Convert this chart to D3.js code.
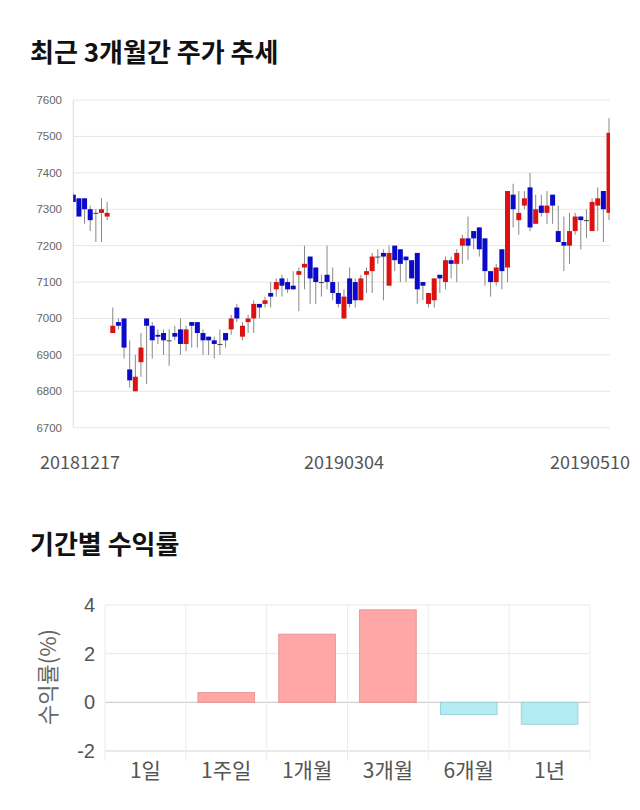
<!DOCTYPE html>
<html><head><meta charset="utf-8">
<script src="https://cdn.jsdelivr.net/npm/d3@7"></script>
<style>
html,body{margin:0;padding:0;background:#fff;}
svg{display:block;}
</style></head>
<body>
<script>
// ---- Candlestick data (96 trading days) ----
const dates = ["20181217","20190304","20190510"];
const dateIdx = [0,48,95];
const opens  = [7340,7330,7330,7300,7290,7290,7280,6960,6990,7000,6860,6800,6880,7000,6980,6955,6960,6940,6960,6970,6930,6990,6990,6960,6950,6940,6930,6960,6970,7030,6950,6990,7000,7040,7040,7070,7080,7110,7100,7090,7120,7140,7170,7140,7100,7120,7100,7070,7000,7110,7100,7050,7120,7130,7170,7180,7090,7200,7190,7170,7160,7180,7100,7040,7050,7120,7100,7160,7150,7200,7220,7240,7250,7220,7130,7100,7190,7140,7340,7270,7310,7360,7260,7310,7290,7340,7240,7210,7200,7240,7280,7270,7240,7310,7350,7290];
const highs  = [7345,7330,7330,7310,7300,7330,7320,7030,7000,7000,6940,6900,6960,7000,6990,6970,6970,6970,6980,7000,6980,6990,6990,6970,6950,6950,6970,6960,7010,7040,6990,7010,7050,7040,7060,7100,7110,7120,7110,7130,7140,7200,7170,7140,7120,7200,7140,7100,7080,7140,7110,7120,7140,7180,7190,7190,7200,7200,7190,7170,7160,7180,7100,7070,7110,7120,7170,7170,7190,7230,7280,7240,7250,7220,7130,7150,7190,7350,7370,7350,7350,7400,7340,7340,7350,7340,7310,7280,7290,7290,7280,7300,7330,7360,7350,7550];
const lows   = [7320,7280,7260,7240,7210,7210,7270,6960,6970,6890,6810,6800,6840,6820,6890,6930,6900,6870,6940,6900,6910,6920,6920,6900,6900,6890,6900,6920,6955,6990,6940,6960,6960,7000,7030,7030,7060,7060,7070,7080,7020,7080,7040,7040,7060,7080,7050,7030,7000,7030,7030,7050,7070,7070,7150,7050,7090,7130,7100,7100,7110,7040,7050,7030,7030,7070,7080,7110,7100,7150,7160,7190,7170,7090,7060,7090,7080,7100,7250,7230,7300,7240,7260,7280,7260,7260,7210,7130,7150,7230,7190,7220,7240,7240,7210,7270];
const closes = [7320,7280,7300,7270,7290,7300,7290,6980,6980,6920,6830,6840,6920,6980,6940,6950,6940,6940,6950,6930,6970,6980,6960,6940,6940,6930,6930,6940,7000,7000,6980,7000,7040,7030,7050,7060,7100,7090,7080,7080,7130,7150,7110,7100,7100,7100,7070,7040,7060,7040,7050,7110,7130,7170,7170,7170,7180,7160,7150,7160,7110,7080,7090,7070,7110,7110,7160,7150,7180,7220,7200,7220,7190,7130,7100,7140,7130,7350,7300,7290,7330,7250,7300,7290,7310,7310,7210,7200,7240,7280,7270,7270,7320,7330,7300,7510];
const priceTicks = [6700,6800,6900,7000,7100,7200,7300,7400,7500,7600];

// ---- Period returns ----
const periods = ["1일","1주일","1개월","3개월","6개월","1년"];
const returns = [0, 0.4, 2.8, 3.8, -0.5, -0.9];
const returnTicks = [-2,0,2,4];

const W = 640, H = 810;
const svg = d3.select("body").append("svg").attr("width", W).attr("height", H);
const KR = "'Noto Sans CJK KR','Noto Sans',sans-serif";

// Titles
svg.append("text").attr("x", 30).attr("y", 62).text("최근 3개월간 주가 추세")
  .attr("font-family", KR).attr("font-weight", 700).attr("font-size", 26).attr("fill", "#111");
svg.append("text").attr("x", 30).attr("y", 554).text("기간별 수익률")
  .attr("font-family", KR).attr("font-weight", 700).attr("font-size", 26).attr("fill", "#111");

// ---- Candlestick chart ----
const cL = 73.3, cR = 610, cT = 100, cB = 427.7;
const x = d3.scaleLinear().domain([0, opens.length - 1]).range([cL, 609]);
const y = d3.scaleLinear().domain([6700, 7600]).range([cB, cT]);

const g1 = svg.append("g");
g1.selectAll("line.grid").data(priceTicks).join("line")
  .attr("x1", cL).attr("x2", cR).attr("y1", d => y(d)).attr("y2", d => y(d))
  .attr("stroke", "#e6e6e6").attr("stroke-width", 1);
g1.append("line").attr("x1", cL).attr("x2", cL).attr("y1", cT).attr("y2", cB)
  .attr("stroke", "#dcdcdc");
g1.selectAll("text.yt").data(priceTicks).join("text")
  .attr("x", 62).attr("y", d => y(d) + 4).attr("text-anchor", "end")
  .attr("font-family", "'Liberation Sans',Arial,sans-serif").attr("font-size", 11.5).attr("fill", "#666")
  .text(d => d);

svg.append("defs").append("clipPath").attr("id", "plotclip")
  .append("rect").attr("x", cL).attr("y", cT - 5).attr("width", cR - cL).attr("height", cB - cT + 10);

const candles = d3.range(opens.length).map(i => ({i, o: opens[i], h: highs[i], l: lows[i], c: closes[i]}));
const cg = g1.append("g").attr("clip-path", "url(#plotclip)");
const color = d => d.c > d.o ? "#dc1212" : (d.c < d.o ? "#0a0ac8" : "#444");
cg.selectAll("line.wick").data(candles).join("line")
  .attr("x1", d => x(d.i)).attr("x2", d => x(d.i))
  .attr("y1", d => y(d.h)).attr("y2", d => y(d.l))
  .attr("stroke", "#888").attr("stroke-width", 1);
const bw = 5;
cg.selectAll("rect.body").data(candles).join("rect")
  .attr("x", d => x(d.i) - bw / 2).attr("width", bw)
  .attr("y", d => y(Math.max(d.o, d.c)))
  .attr("height", d => Math.max(1, Math.abs(y(d.o) - y(d.c))))
  .attr("fill", color);

g1.selectAll("text.xt").data(dateIdx).join("text")
  .attr("x", (d) => Math.max(80, Math.min(590, x(d))))
  .attr("y", 469).attr("text-anchor", "middle")
  .attr("font-family", KR).attr("font-size", 18).attr("fill", "#555")
  .text((d, k) => dates[k]);

// ---- Returns bar chart ----
const bL = 105, bR = 590, bT = 605, bB = 751;
const xb = d3.scaleBand().domain(periods).range([bL, bR]);
const yb = d3.scaleLinear().domain([-2, 4]).range([bB, bT]);
const g2 = svg.append("g");
g2.selectAll("line.hg").data(returnTicks).join("line")
  .attr("x1", bL).attr("x2", bR).attr("y1", d => yb(d)).attr("y2", d => yb(d))
  .attr("stroke", d => d === 0 ? "#c4c4c4" : (d === -2 ? "#d4d4d4" : "#e8e8e8"));
g2.selectAll("line.vg").data(d3.range(periods.length + 1)).join("line")
  .attr("x1", d => bL + d * xb.bandwidth()).attr("x2", d => bL + d * xb.bandwidth())
  .attr("y1", bT).attr("y2", bB + 10).attr("stroke", "#ececec");
const barW = xb.bandwidth() * 0.7;
g2.selectAll("rect.bar").data(periods).join("rect")
  .attr("x", (d) => xb(d) + xb.bandwidth() / 2 - barW / 2)
  .attr("width", barW)
  .attr("y", (d, i) => yb(Math.max(0, returns[i])))
  .attr("height", (d, i) => Math.abs(yb(returns[i]) - yb(0)))
  .attr("fill", (d, i) => returns[i] >= 0 ? "#ffa7a7" : "#b2ebf2")
  .attr("stroke", (d, i) => returns[i] >= 0 ? "#e89494" : "#9ad3dc")
  .attr("stroke-width", (d, i) => returns[i] === 0 ? 0 : 1);
g2.selectAll("text.yt").data(returnTicks).join("text")
  .attr("x", 95).attr("y", d => yb(d) + 7).attr("text-anchor", "end")
  .attr("font-family", "'Liberation Sans',Arial,sans-serif").attr("font-size", 20).attr("fill", "#555")
  .text(d => d);
g2.selectAll("text.xt").data(periods).join("text")
  .attr("x", d => xb(d) + xb.bandwidth() / 2).attr("y", 778).attr("text-anchor", "middle")
  .attr("font-family", KR).attr("font-size", 21).attr("fill", "#555")
  .text(d => d);
g2.append("text").attr("transform", "translate(56,677) rotate(-90)")
  .attr("text-anchor", "middle").attr("font-family", KR).attr("font-size", 22).attr("fill", "#666")
  .text("수익률(%)");
</script>
</body></html>
